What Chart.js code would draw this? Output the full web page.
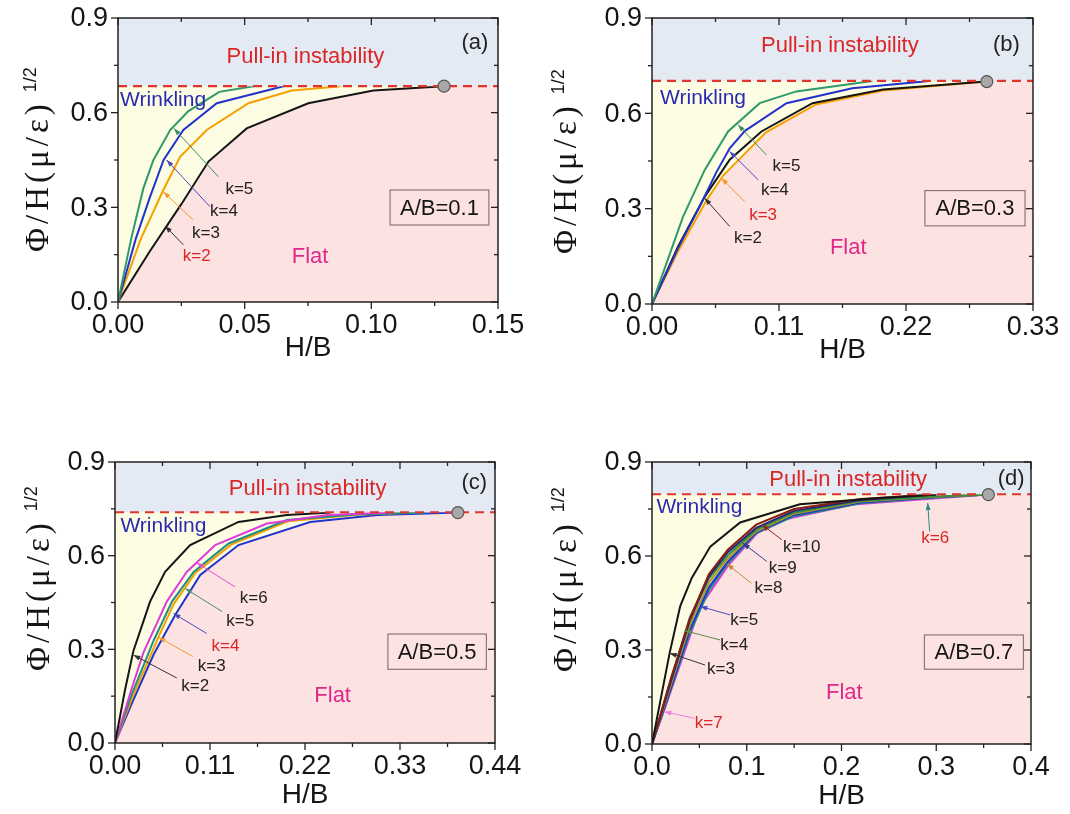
<!DOCTYPE html>
<html>
<head>
<meta charset="utf-8">
<script src="https://cdn.jsdelivr.net/npm/chart.js@4.4.1/dist/chart.umd.min.js"></script>
<style>
  body { margin: 0; background: #fff; width: 1070px; height: 814px; position: relative; overflow: hidden; }
  .panel { position: absolute; }
</style>
</head>
<body>
<div class="panel" style="left:0;top:0"><canvas id="cA" width="535" height="400"></canvas></div>
<div class="panel" style="left:535px;top:0"><canvas id="cB" width="535" height="400"></canvas></div>
<div class="panel" style="left:0;top:410px"><canvas id="cC" width="535" height="404"></canvas></div>
<div class="panel" style="left:535px;top:410px"><canvas id="cD" width="535" height="404"></canvas></div>
<script>
// --- data ---
const yTicks = [0, 0.3, 0.6, 0.9];

// (a) A/B = 0.1
const aXTicks = [0, 0.05, 0.10, 0.15];
const aCrit = 0.684;
const aDot = [0.1287, 0.684];
const aK2x = [0, 0.0125, 0.025, 0.0357, 0.0508, 0.0751, 0.1008, 0.1287];
const aK2y = [0, 0.16, 0.31, 0.445, 0.55, 0.63, 0.67, 0.684];
const aK3x = [0, 0.009, 0.0179, 0.0245, 0.035, 0.0515, 0.0686, 0.088];
const aK3y = [0, 0.2, 0.355, 0.46, 0.545, 0.63, 0.67, 0.684];
const aK4x = [0, 0.007, 0.0125, 0.018, 0.0258, 0.039, 0.0653];
const aK4y = [0, 0.2, 0.33, 0.45, 0.545, 0.63, 0.684];
const aK5x = [0, 0.0052, 0.01, 0.014, 0.0206, 0.0278, 0.040, 0.0535];
const aK5y = [0, 0.2, 0.36, 0.45, 0.545, 0.605, 0.666, 0.684];

// (b) A/B = 0.3
const bXTicks = [0, 0.11, 0.22, 0.33];
const bCrit = 0.702;
const bDot = [0.290, 0.700];
const bK2x = [0, 0.0225, 0.0457, 0.0673, 0.0948, 0.139, 0.2, 0.289];
const bK2y = [0, 0.18, 0.338, 0.454, 0.543, 0.632, 0.675, 0.70];
const bK3x = [0, 0.0225, 0.047, 0.0618, 0.0987, 0.142, 0.2, 0.29];
const bK3y = [0, 0.165, 0.325, 0.405, 0.54, 0.628, 0.672, 0.70];
const bK4x = [0, 0.0225, 0.0413, 0.0558, 0.0673, 0.0805, 0.1165, 0.1735, 0.24];
const bK4y = [0, 0.175, 0.307, 0.415, 0.49, 0.545, 0.632, 0.679, 0.702];
const bK5x = [0, 0.0269, 0.0457, 0.0659, 0.0933, 0.125, 0.191];
const bK5y = [0, 0.275, 0.422, 0.543, 0.632, 0.669, 0.702];

// (c) A/B = 0.5
const cXTicks = [0, 0.11, 0.22, 0.33, 0.44];
const cCrit = 0.739;
const cDot = [0.397, 0.738];
const cK2x = [0, 0.0116, 0.0213, 0.0406, 0.058, 0.087, 0.143, 0.199, 0.25];
const cK2y = [0, 0.17, 0.295, 0.453, 0.548, 0.634, 0.708, 0.73, 0.738];
const cK3x = [0, 0.02, 0.0503, 0.068, 0.093, 0.135, 0.2, 0.28, 0.35];
const cK3y = [0, 0.145, 0.339, 0.445, 0.545, 0.636, 0.71, 0.731, 0.738];
const cK4x = [0, 0.02, 0.045, 0.0697, 0.0987, 0.143, 0.226, 0.304, 0.397];
const cK4y = [0, 0.13, 0.285, 0.41, 0.538, 0.634, 0.708, 0.73, 0.738];
const cK5x = [0, 0.02, 0.045, 0.066, 0.091, 0.1316, 0.199, 0.277, 0.36];
const cK5y = [0, 0.16, 0.33, 0.453, 0.548, 0.639, 0.714, 0.732, 0.738];
const cK6x = [0, 0.02, 0.033, 0.06, 0.083, 0.116, 0.176, 0.246, 0.32];
const cK6y = [0, 0.18, 0.29, 0.453, 0.548, 0.634, 0.703, 0.73, 0.738];

// (d) A/B = 0.7
const dXTicks = [0, 0.1, 0.2, 0.3, 0.4];
const dCrit = 0.797;
const dDot = [0.355, 0.796];
const dK3x = [0, 0.0186, 0.0298, 0.042, 0.0615, 0.093, 0.156, 0.24, 0.3];
const dK3y = [0, 0.29, 0.44, 0.53, 0.63, 0.707, 0.765, 0.785, 0.796];
const dKx = [0, 0.02, 0.04, 0.06, 0.08, 0.11, 0.15, 0.22, 0.3, 0.355];
const dK4y = [0, 0.205, 0.405, 0.528, 0.602, 0.684, 0.739, 0.776, 0.79, 0.796];
const dK5y = [0, 0.18, 0.365, 0.5, 0.582, 0.676, 0.731, 0.771, 0.788, 0.796];
const dK6y = [0, 0.175, 0.355, 0.49, 0.576, 0.673, 0.727, 0.768, 0.787, 0.796];
const dK7x = [0, 0.0123, 0.035, 0.051, 0.081, 0.111, 0.142, 0.212, 0.355];
const dK7y = [0, 0.103, 0.30, 0.439, 0.572, 0.673, 0.718, 0.764, 0.796];
const dK8y = [0, 0.19, 0.38, 0.515, 0.592, 0.679, 0.735, 0.774, 0.789, 0.796];
const dK9y = [0, 0.2, 0.395, 0.535, 0.612, 0.69, 0.744, 0.779, 0.796];
const dK10y = [0, 0.21, 0.40, 0.542, 0.62, 0.70, 0.75, 0.782, 0.796];

// --- colours ---
const BLACK = "#151515", GREEN = "#2e9a6c", BLUE = "#2233cc", ORANGE = "#f5a000";
const MAGENTA = "#e03ad8", TEAL = "#1f8f86", OLIVE = "#a89a22", NAVY = "#1c2880", BROWN = "#8c1c10", DGREEN = "#3c8c3c";
const RED_TXT = "#dc2626";
const SANS = "'Liberation Sans', Arial, sans-serif";

const pts = (xs, ys) => ys.map((y, i) => ({ x: xs[i], y }));

// --- panel descriptions ---
const panels = [
  {
    id: "cA", xTicks: aXTicks, dec: 2, crit: aCrit, dot: aDot, yw: 118, xh: 98, padTop: 18, padRight: 37,
    titleStart: 50, titleX: 79, xTitle: 46,
    curves: [
      { x: aK5x, y: aK5y, color: GREEN }, { x: aK4x, y: aK4y, color: BLUE },
      { x: aK3x, y: aK3y, color: ORANGE }, { x: aK2x, y: aK2y, color: BLACK }
    ],
    lowest: 3,
    texts: [
      { t: "Pull-in instability", x: 0.074, y: 0.777, c: RED_TXT, s: 22 },
      { t: "(a)", x: 0.1409, y: 0.821, c: "#222", s: 22 },
      { t: "Wrinkling", x: 0.0178, y: 0.640, c: "#2a2ab4", s: 21 },
      { t: "Flat", x: 0.0758, y: 0.144, c: "#e0288a", s: 22 }
    ],
    box: { x0: 0.1074, x1: 0.1464, y0: 0.355, y1: 0.244, t: "A/B=0.1" },
    arrows: [
      { t: "k=5", lx: 0.0479, ly: 0.357, tx: 0.0396, ty: 0.397, hx: 0.0221, hy: 0.55, c: "#3a8f63", lc: "#222" },
      { t: "k=4", lx: 0.0418, ly: 0.286, tx: 0.0363, ty: 0.302, hx: 0.0192, hy: 0.45, c: "#4848c0", lc: "#222" },
      { t: "k=3", lx: 0.0347, ly: 0.218, tx: 0.0297, ty: 0.26, hx: 0.0179, hy: 0.349, c: "#f09a30", lc: "#222" },
      { t: "k=2", lx: 0.0311, ly: 0.144, tx: 0.0258, ty: 0.181, hx: 0.0186, hy: 0.241, c: "#333", lc: RED_TXT }
    ]
  },
  {
    id: "cB", xTicks: bXTicks, dec: 2, crit: bCrit, dot: bDot, yw: 117, xh: 96, padTop: 18, padRight: 37,
    titleStart: 50, titleX: 85, xTitle: 46,
    curves: [
      { x: bK5x, y: bK5y, color: GREEN }, { x: bK4x, y: bK4y, color: BLUE },
      { x: bK2x, y: bK2y, color: BLACK }, { x: bK3x, y: bK3y, color: ORANGE }
    ],
    lowest: 3,
    texts: [
      { t: "Pull-in instability", x: 0.1627, y: 0.811, c: RED_TXT, s: 22 },
      { t: "(b)", x: 0.307, y: 0.816, c: "#222", s: 22 },
      { t: "Wrinkling", x: 0.0442, y: 0.648, c: "#2a2ab4", s: 21 },
      { t: "Flat", x: 0.17, y: 0.175, c: "#e0288a", s: 22 }
    ],
    box: { x0: 0.2364, x1: 0.3231, y0: 0.357, y1: 0.246, t: "A/B=0.3" },
    arrows: [
      { t: "k=5", lx: 0.1165, ly: 0.432, tx: 0.0991, ty: 0.469, hx: 0.0745, hy: 0.564, c: "#3a8f63", lc: "#222" },
      { t: "k=4", lx: 0.1064, ly: 0.359, tx: 0.0919, ty: 0.391, hx: 0.0673, hy: 0.48, c: "#4848c0", lc: "#222" },
      { t: "k=3", lx: 0.0962, ly: 0.28, tx: 0.0804, ty: 0.322, hx: 0.0601, hy: 0.396, c: "#f09a30", lc: RED_TXT },
      { t: "k=2", lx: 0.0832, ly: 0.207, tx: 0.0673, ty: 0.244, hx: 0.0457, hy: 0.333, c: "#333", lc: "#222" }
    ]
  },
  {
    id: "cC", xTicks: cXTicks, dec: 2, crit: cCrit, dot: cDot, yw: 115, xh: 71, padTop: 52, padRight: 40,
    titleStart: 72, titleX: 75, xTitle: 52,
    curves: [
      { x: cK2x, y: cK2y, color: BLACK }, { x: cK6x, y: cK6y, color: MAGENTA },
      { x: cK5x, y: cK5y, color: TEAL }, { x: cK3x, y: cK3y, color: ORANGE },
      { x: cK4x, y: cK4y, color: BLUE }
    ],
    lowest: 4,
    texts: [
      { t: "Pull-in instability", x: 0.223, y: 0.815, c: RED_TXT, s: 22 },
      { t: "(c)", x: 0.416, y: 0.833, c: "#222", s: 22 },
      { t: "Wrinkling", x: 0.056, y: 0.694, c: "#2a2ab4", s: 21 },
      { t: "Flat", x: 0.252, y: 0.151, c: "#e0288a", s: 22 }
    ],
    box: { x0: 0.316, x1: 0.430, y0: 0.349, y1: 0.236, t: "A/B=0.5" },
    arrows: [
      { t: "k=6", lx: 0.1606, ly: 0.463, tx: 0.139, ty: 0.50, hx: 0.0948, hy: 0.577, c: "#e050d8", lc: "#222" },
      { t: "k=5", lx: 0.145, ly: 0.389, tx: 0.124, ty: 0.421, hx: 0.0813, hy: 0.495, c: "#4a8a78", lc: "#222" },
      { t: "k=4", lx: 0.128, ly: 0.311, tx: 0.106, ty: 0.351, hx: 0.0677, hy: 0.415, c: "#4848c0", lc: RED_TXT },
      { t: "k=3", lx: 0.112, ly: 0.245, tx: 0.090, ty: 0.277, hx: 0.0503, hy: 0.339, c: "#f09a30", lc: "#222" },
      { t: "k=2", lx: 0.0929, ly: 0.181, tx: 0.0716, ty: 0.208, hx: 0.0213, hy: 0.282, c: "#333", lc: "#222" }
    ]
  },
  {
    id: "cD", xTicks: dXTicks, dec: 1, crit: dCrit, dot: dDot, yw: 117, xh: 70, padTop: 52, padRight: 39,
    titleStart: 72, titleX: 85, xTitle: 52,
    curves: [
      { x: dK3x, y: dK3y, color: BLACK }, { x: dKx, y: dK10y, color: BROWN },
      { x: dKx, y: dK9y, color: NAVY }, { x: dKx, y: dK4y, color: DGREEN },
      { x: dKx, y: dK8y, color: OLIVE }, { x: dKx, y: dK5y, color: BLUE },
      { x: dKx, y: dK6y, color: TEAL }, { x: dK7x, y: dK7y, color: MAGENTA }
    ],
    lowest: 7,
    texts: [
      { t: "Pull-in instability", x: 0.207, y: 0.843, c: RED_TXT, s: 22 },
      { t: "(d)", x: 0.379, y: 0.846, c: "#222", s: 22 },
      { t: "Wrinkling", x: 0.05, y: 0.756, c: "#2a2ab4", s: 21 },
      { t: "Flat", x: 0.203, y: 0.162, c: "#e0288a", s: 22 }
    ],
    box: { x0: 0.2875, x1: 0.392, y0: 0.348, y1: 0.2386, t: "A/B=0.7" },
    arrows: [
      { t: "k=10", lx: 0.158, ly: 0.627, tx: 0.137, ty: 0.652, hx: 0.116, hy: 0.70, c: "#8c2a1c", lc: "#222" },
      { t: "k=9", lx: 0.138, ly: 0.561, tx: 0.121, ty: 0.583, hx: 0.096, hy: 0.641, c: "#303a90", lc: "#222" },
      { t: "k=8", lx: 0.123, ly: 0.497, tx: 0.105, ty: 0.513, hx: 0.079, hy: 0.575, c: "#c08a3a", lc: "#222" },
      { t: "k=5", lx: 0.0974, ly: 0.396, tx: 0.0826, ty: 0.412, hx: 0.051, hy: 0.439, c: "#4848c8", lc: "#222" },
      { t: "k=4", lx: 0.0868, ly: 0.316, tx: 0.072, ty: 0.332, hx: 0.0341, hy: 0.362, c: "#5a8a50", lc: "#222" },
      { t: "k=3", lx: 0.0728, ly: 0.2386, tx: 0.056, ty: 0.252, hx: 0.0186, hy: 0.29, c: "#333", lc: "#222" },
      { t: "k=7", lx: 0.0598, ly: 0.066, tx: 0.0446, ty: 0.082, hx: 0.013, hy: 0.103, c: "#f080e0", lc: RED_TXT },
      { t: "k=6", lx: 0.299, ly: 0.657, tx: 0.293, ty: 0.678, hx: 0.291, hy: 0.769, c: "#2a8a80", lc: RED_TXT }
    ]
  }
];

// --- decoration plugin: frame, Origin-style ticks and tick labels, texts, arrows ---
function decor(p) {
  return {
    id: "decor",
    afterDatasetsDraw(chart) {
      const ctx = chart.ctx;
      const { left, right, top, bottom } = chart.chartArea;
      const xs = chart.scales.x, ys = chart.scales.y;
      const X = v => xs.getPixelForValue(v), Y = v => ys.getPixelForValue(v);
      ctx.save();

      // text labels
      ctx.textAlign = "center";
      ctx.textBaseline = "middle";
      p.texts.forEach(t => {
        ctx.font = `${t.s}px ${SANS}`;
        ctx.fillStyle = t.c;
        ctx.fillText(t.t, X(t.x), Y(t.y));
      });

      // A/B box
      const b = p.box;
      ctx.strokeStyle = "#8a7878";
      ctx.lineWidth = 1.2;
      ctx.strokeRect(X(b.x0), Y(b.y0), X(b.x1) - X(b.x0), Y(b.y1) - Y(b.y0));
      ctx.font = `22px ${SANS}`;
      ctx.fillStyle = "#151515";
      ctx.fillText(b.t, (X(b.x0) + X(b.x1)) / 2, (Y(b.y0) + Y(b.y1)) / 2 + 1);

      // k labels with arrows
      p.arrows.forEach(a => {
        const x1 = X(a.tx), y1 = Y(a.ty), x2 = X(a.hx), y2 = Y(a.hy);
        ctx.strokeStyle = a.c;
        ctx.fillStyle = a.c;
        ctx.lineWidth = 1;
        ctx.beginPath(); ctx.moveTo(x1, y1); ctx.lineTo(x2, y2); ctx.stroke();
        const ang = Math.atan2(y2 - y1, x2 - x1);
        ctx.beginPath();
        ctx.moveTo(x2, y2);
        ctx.lineTo(x2 - 7 * Math.cos(ang) + 2.5 * Math.sin(ang), y2 - 7 * Math.sin(ang) - 2.5 * Math.cos(ang));
        ctx.lineTo(x2 - 7 * Math.cos(ang) - 2.5 * Math.sin(ang), y2 - 7 * Math.sin(ang) + 2.5 * Math.cos(ang));
        ctx.closePath(); ctx.fill();
        ctx.font = `17px ${SANS}`;
        ctx.fillStyle = a.lc;
        ctx.fillText(a.t, X(a.lx), Y(a.ly));
      });

      // frame
      ctx.strokeStyle = "#222";
      ctx.lineWidth = 1.5;
      ctx.strokeRect(left, top, right - left, bottom - top);

      // ticks: outward on bottom/left, inward on top/right
      const tick = (x1, y1, x2, y2) => { ctx.beginPath(); ctx.moveTo(x1, y1); ctx.lineTo(x2, y2); ctx.stroke(); };
      ctx.lineWidth = 1.3;
      p.xTicks.forEach((v, i) => {
        const px = X(v);
        tick(px, bottom, px, bottom + 7); tick(px, top, px, top + 7);
        if (i < p.xTicks.length - 1) {
          const m = X((v + p.xTicks[i + 1]) / 2);
          tick(m, bottom, m, bottom + 4); tick(m, top, m, top + 4);
        }
      });
      yTicks.forEach((v, i) => {
        const py = Y(v);
        tick(left - 7, py, left, py); tick(right - 7, py, right, py);
        if (i < yTicks.length - 1) {
          const m = Y((v + yTicks[i + 1]) / 2);
          tick(left - 4, m, left, m); tick(right - 4, m, right, m);
        }
      });

      // tick labels
      ctx.fillStyle = "#151515";
      ctx.font = `27px ${SANS}`;
      ctx.textAlign = "center";
      p.xTicks.forEach(v => ctx.fillText(v.toFixed(p.dec), X(v), bottom + 24));
      ctx.textAlign = "right";
      yTicks.forEach(v => ctx.fillText(v.toFixed(1), left - 10, Y(v) + 1));

      // x title
      ctx.textAlign = "center";
      ctx.font = `28px ${SANS}`;
      ctx.fillText("H/B", (left + right) / 2, bottom + p.xTitle);

      // y title: Φ/H(μ/ε)^(1/2), rotated
      ctx.translate(left - p.titleX, bottom - p.titleStart);
      ctx.rotate(-Math.PI / 2);
      ctx.textAlign = "left";
      ctx.font = `33px 'Liberation Serif', 'Times New Roman', serif`;
      const main = "\u03A6/H(\u03BC/\u03B5)";
      if ("letterSpacing" in ctx) ctx.letterSpacing = "4px";
      ctx.fillText(main, 0, 0);
      const w = ctx.measureText(main).width;
      if ("letterSpacing" in ctx) ctx.letterSpacing = "0px";
      ctx.font = `18px ${SANS}`;
      ctx.fillText("1/2", w + 8, -8);
      ctx.restore();
    }
  };
}

function buildChart(p) {
  const xMax = p.xTicks[p.xTicks.length - 1];
  const low = p.curves[p.lowest];
  const datasets = [
    // critical point
    { data: pts([p.dot[0]], [p.dot[1]]), showLine: false, pointRadius: 6, pointBackgroundColor: "#a8a8a8",
      pointBorderColor: "#555", pointBorderWidth: 1.2, order: 0 },
    // pull-in limit (dashed) with the region above it
    { data: pts([0, xMax], [p.crit, p.crit]), borderColor: "#e3342a", borderWidth: 2.2, borderDash: [9, 6],
      pointRadius: 0, fill: "end", backgroundColor: "#e4eaf4", order: 1 },
    // mode curves
    ...p.curves.map(c => ({ data: pts(c.x, c.y), borderColor: c.color, borderWidth: 2, pointRadius: 0,
      fill: false, order: 2 })),
    // flat region under the lowest curve
    { data: pts([...low.x, xMax], [...low.y, p.crit]), borderColor: "transparent", borderWidth: 1, pointRadius: 0,
      fill: "origin", backgroundColor: "#fde2e2", order: 3 },
    // wrinkling region below the limit
    { data: pts([0, xMax], [p.crit, p.crit]), borderColor: "transparent", borderWidth: 1, pointRadius: 0,
      fill: "origin", backgroundColor: "#fdfde3", order: 4 }
  ];

  return new Chart(document.getElementById(p.id), {
    type: "line",
    data: { datasets },
    options: {
      responsive: false,
      animation: false,
      layout: { padding: { left: 0, top: p.padTop, right: p.padRight, bottom: 0 }, autoPadding: false },
      plugins: { legend: { display: false }, tooltip: { enabled: false } },
      elements: { line: { tension: 0 } },
      scales: {
        x: {
          type: "linear", min: 0, max: xMax,
          afterBuildTicks: s => { s.ticks = p.xTicks.map(v => ({ value: v })); },
          afterFit: s => { s.height = p.xh; },
          grid: { display: false, drawTicks: false }, border: { display: false },
          ticks: { display: false }
        },
        y: {
          type: "linear", min: 0, max: 0.9,
          afterBuildTicks: s => { s.ticks = yTicks.map(v => ({ value: v })); },
          afterFit: s => { s.width = p.yw; },
          grid: { display: false, drawTicks: false }, border: { display: false },
          ticks: { display: false }
        }
      }
    },
    plugins: [decor(p)]
  });
}

panels.forEach(buildChart);
</script>
</body>
</html>
